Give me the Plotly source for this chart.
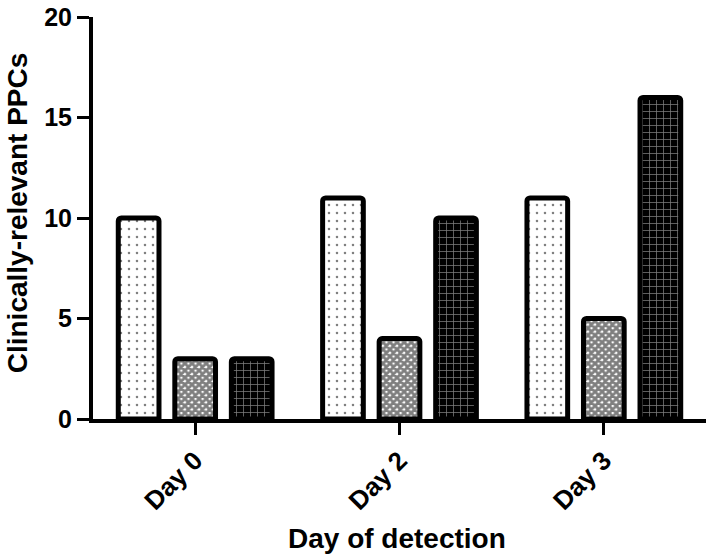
import plotly.graph_objects as go

categories = ["Day 0", "Day 2", "Day 3"]
series_a = [10, 11, 11]
series_b = [3, 4, 5]
series_c = [3, 10, 16]
y_ticks = [0, 5, 10, 15, 20]

FONT = "Arial, Liberation Sans, sans-serif"

fig = go.Figure()
fig.add_trace(go.Bar(
    x=categories, y=series_a, name="Series A",
    marker=dict(color="white", line=dict(color="black", width=5), cornerradius=3,
                pattern=dict(shape=".", fgcolor="black", bgcolor="white", size=8, solidity=0.08)),
))
fig.add_trace(go.Bar(
    x=categories, y=series_b, name="Series B",
    marker=dict(color="white", line=dict(color="black", width=5), cornerradius=3,
                pattern=dict(shape="x", fgcolor="black", bgcolor="white", size=5, solidity=0.8)),
))
fig.add_trace(go.Bar(
    x=categories, y=series_c, name="Series C",
    marker=dict(color="black", line=dict(color="black", width=5), cornerradius=3,
                pattern=dict(shape="+", fgcolor="white", bgcolor="black", size=7, solidity=0.2)),
))

fig.update_layout(
    width=709, height=556,
    margin=dict(l=93, r=3, t=11, b=137),
    paper_bgcolor="white", plot_bgcolor="white",
    barmode="group", bargap=0.17, bargroupgap=0.28,
    showlegend=False,
    font=dict(family=FONT, color="black"),
    xaxis=dict(
        range=[-0.5, 2.5], showline=True, linecolor="black", linewidth=4,
        ticks="outside", ticklen=12, tickwidth=3, tickcolor="black",
        tickangle=-45, tickfont=dict(size=26, family=FONT, weight="bold"),
        showgrid=False, zeroline=False,
    ),
    yaxis=dict(
        range=[0, 20], tickvals=y_ticks, showline=True, linecolor="black", linewidth=4,
        ticks="outside", ticklen=12, tickwidth=3, tickcolor="black",
        tickfont=dict(size=25, family=FONT, weight="bold"),
        ticklabeloverflow="allow",
        showgrid=False, zeroline=False,
    ),
    annotations=[
        dict(text="<b>Day of detection</b>", xref="paper", yref="paper",
             x=0.496, y=-0.298, xanchor="center", yanchor="middle",
             showarrow=False, font=dict(size=28, family=FONT)),
        dict(text="<b>Clinically-relevant PPCs</b>", xref="paper", yref="paper",
             x=-0.1517, y=0.513, xanchor="left", yanchor="middle", textangle=-90,
             showarrow=False, font=dict(size=28, family=FONT)),
    ],
)

fig.write_html("out.html", config={"displayModeBar": False},
               post_script="document.body.style.margin='0';")
